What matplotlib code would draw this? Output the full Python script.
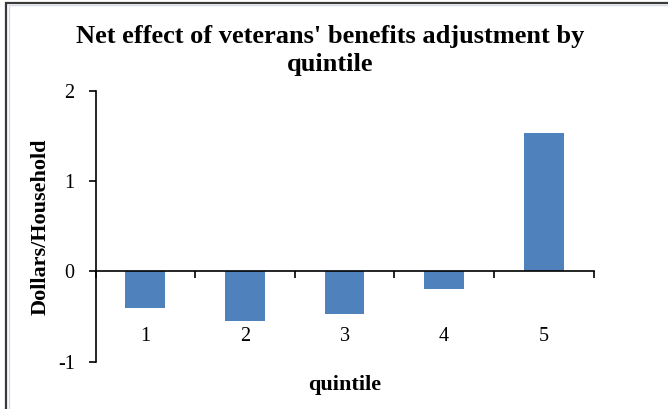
import matplotlib
matplotlib.use("Agg")
import matplotlib.pyplot as plt
from matplotlib.patches import Rectangle
import numpy as np

# data
quintiles = ["1", "2", "3", "4", "5"]
net_effect = [-0.41, -0.55, -0.47, -0.19, 1.53]
y_ticks = [-1, 0, 1, 2]

plt.rcParams["font.family"] = ["Liberation Serif", "DejaVu Serif"]

fig = plt.figure(figsize=(6.68, 4.09), dpi=100)
ax = fig.add_axes([0.143, 0.1157, 0.7455, 0.6618])

x = np.arange(1, len(quintiles) + 1)
ax.bar(x, net_effect, width=0.4, color="#4F81BD", zorder=2)

ax.set_xlim(0.5, len(quintiles) + 0.5)
ax.set_ylim(-1, 2)
ax.set_yticks(y_ticks)
ax.set_yticklabels([str(v) for v in y_ticks])

# category labels sit low, boundary ticks hang off the zero line
ax.set_xticks(x)
ax.set_xticklabels(quintiles)
ax.set_xticks(np.arange(0.5, len(quintiles) + 1, 1), minor=True)
ax.tick_params(axis="x", which="major", length=0, pad=40, labelsize=14.5)
ax.tick_params(axis="x", which="minor", length=5, width=1.2, direction="out")
ax.tick_params(axis="y", length=5, width=1.2, pad=10, labelsize=14.5)

for s in ["top", "right"]:
    ax.spines[s].set_visible(False)
ax.spines["bottom"].set_position(("data", 0))
ax.spines["left"].set_linewidth(1.2)
ax.spines["bottom"].set_linewidth(1.2)

ax.set_ylabel("Dollars/Household", fontsize=16, fontweight="bold")
ax.yaxis.set_label_coords(-0.09, 0.5)
ax.set_xlabel("quintile", fontsize=16, fontweight="bold")
ax.xaxis.set_label_coords(0.5, -0.05)

fig.text(0.494, 0.94, "Net effect of veterans' benefits adjustment by\nquintile",
         ha="center", va="top", fontsize=19, fontweight="bold", linespacing=1.3)

# outer chart border
fig.patches.append(Rectangle((6 / 668, -0.1), 1.2, 1.1 - 3 / 409, transform=fig.transFigure,
                             fill=False, edgecolor="#3a3a3a", lw=1.6))
fig.patches.append(Rectangle((8.5 / 668, -0.1), 1.2, 1.1 - 5.5 / 409, transform=fig.transFigure,
                             fill=False, edgecolor="#d4dbe6", lw=1.0))

plt.savefig("out.png", dpi=100)
